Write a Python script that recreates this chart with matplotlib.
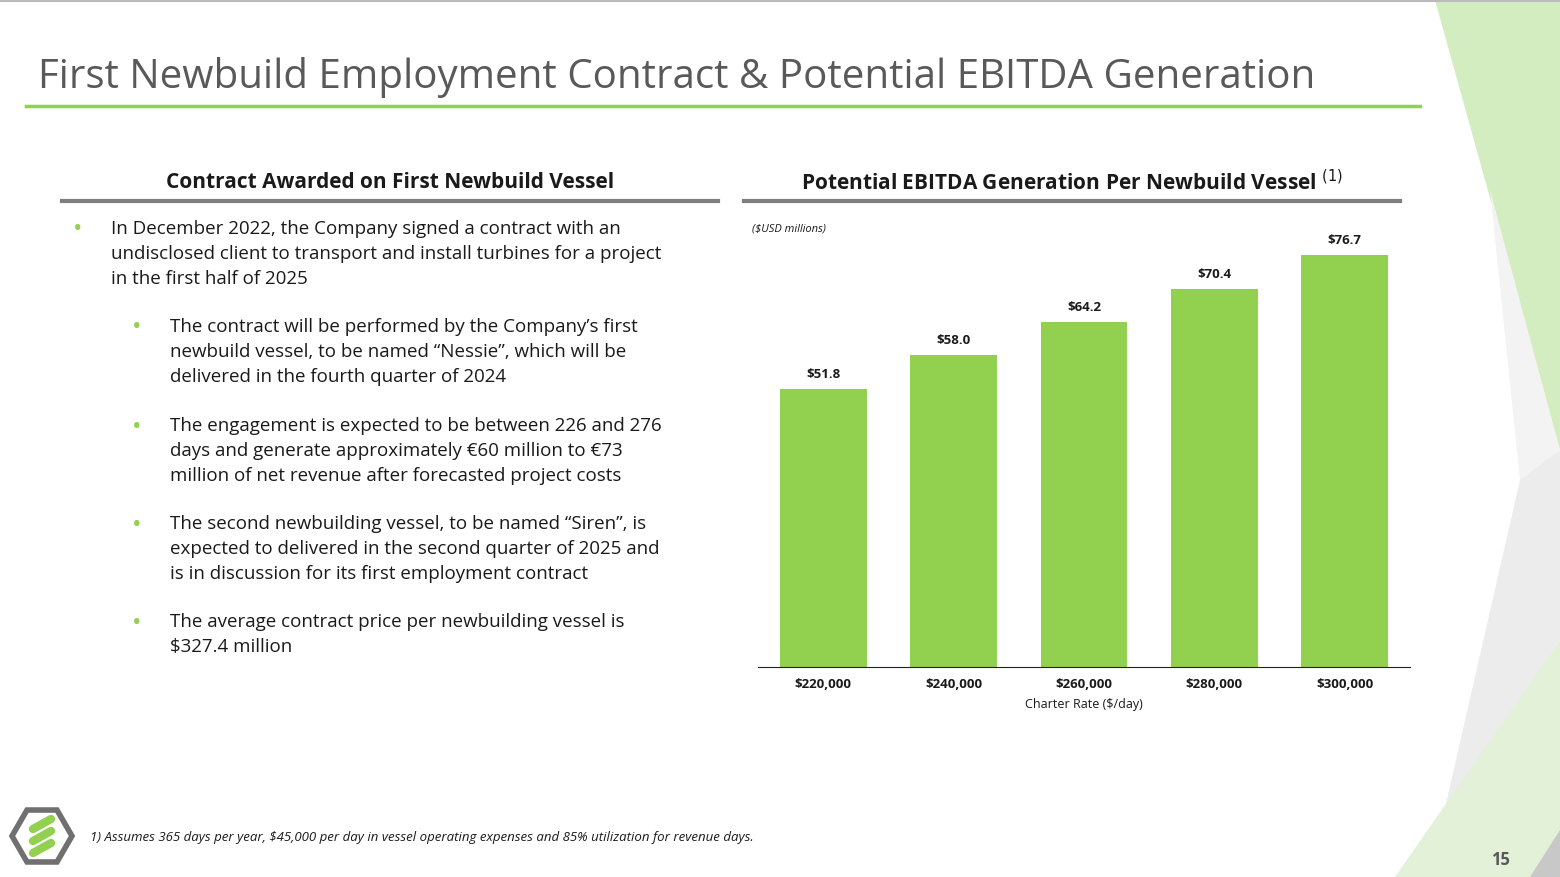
import numpy as np
import matplotlib.pyplot as plt
from matplotlib.patches import Polygon, RegularPolygon

# ── Data ─────────────────────────────────────────────────────────────────────
charter_rates = ["$220,000", "$240,000", "$260,000", "$280,000", "$300,000"]
ebitda = [51.8, 58.0, 64.2, 70.4, 76.7]

bullets = [
    (0, "In December 2022, the Company signed a contract with an\nundisclosed client to transport and install turbines for a project\nin the first half of 2025"),
    (1, "The contract will be performed by the Company\u2019s first\nnewbuild vessel, to be named \u201cNessie\u201d, which will be\ndelivered in the fourth quarter of 2024"),
    (1, "The engagement is expected to be between 226 and 276\ndays and generate approximately \u20ac60 million to \u20ac73\nmillion of net revenue after forecasted project costs"),
    (1, "The second newbuilding vessel, to be named \u201cSiren\u201d, is\nexpected to delivered in the second quarter of 2025 and\nis in discussion for its first employment contract"),
    (1, "The average contract price per newbuilding vessel is\n$327.4 million"),
]
bullet_y = [233, 331, 430, 528, 626]

GREEN = "#92d050"
TXT = "#1a1a1a"
plt.rcParams['font.family'] = ['Open Sans', 'DejaVu Sans']

W, H = 1560, 877
fig = plt.figure(figsize=(W / 100, H / 100), dpi=100)
bg = fig.add_axes([0, 0, 1, 1])
bg.set_xlim(0, W); bg.set_ylim(H, 0); bg.axis("off")

# decorative shapes on the right
bg.add_patch(Polygon([(1435, 0), (1560, 0), (1560, 450)], color="#d3edc0", lw=0))
bg.add_patch(Polygon([(1490, 190), (1560, 450), (1560, 640), (1520, 480)], color="#f3f3f3", lw=0))
bg.add_patch(Polygon([(1520, 480), (1560, 450), (1560, 640), (1450, 800), (1440, 830)], color="#ececec", lw=0))
bg.add_patch(Polygon([(1395, 877), (1560, 640), (1560, 877)], color="#e2f1d8", lw=0))
bg.add_patch(Polygon([(1530, 877), (1560, 830), (1560, 877)], color="#c8c8c8", lw=0))
bg.plot([0, W], [1, 1], color="#bbbbbb", lw=1.5)

# title
bg.text(38, 78, "First Newbuild Employment Contract & Potential EBITDA Generation",
        fontsize=29, color="#595959", va="center")
bg.plot([26, 1420], [106, 106], color=GREEN, lw=2.5)

# section headers
bg.text(390, 183, "Contract Awarded on First Newbuild Vessel", fontsize=15,
        fontweight="bold", color=TXT, ha="center", va="center")
bg.plot([62, 718], [201, 201], color="#7f7f7f", lw=3)
bg.text(1072, 183, "Potential EBITDA Generation Per Newbuild Vessel $^{(1)}$", fontsize=15,
        fontweight="bold", color=TXT, ha="center", va="center")
bg.plot([744, 1400], [201, 201], color="#7f7f7f", lw=3)

# bullets
for (lvl, txt), y in zip(bullets, bullet_y):
    bx = 78 if lvl == 0 else 137
    tx = 111 if lvl == 0 else 170
    bg.text(bx, y - 3, "\u2022", color=GREEN, fontsize=18, va="center", ha="center")
    bg.text(tx, y - 13, txt, fontsize=13.5, color=TXT, va="top", linespacing=1.5)

bg.text(752, 229, "($USD millions)", fontsize=8, style="italic", color=TXT, va="center")

# footnote, logo, page number
bg.text(90, 838, "1) Assumes 365 days per year, $45,000 per day in vessel operating expenses and 85% utilization for revenue days.",
        fontsize=9.5, style="italic", color=TXT, va="center")
bg.add_patch(RegularPolygon((42, 836), 6, radius=30, orientation=np.pi / 6,
                            fill=False, ec="#707070", lw=4))
for dy in (-12, 0, 12):
    bg.plot([33, 51], [836 + dy + 5, 836 + dy - 5], color=GREEN, lw=6, solid_capstyle="round")
bg.text(1500, 860, "15", fontsize=12, fontweight="bold", color="#595959", ha="center", va="center")

# ── Bar chart ────────────────────────────────────────────────────────────────
ax = fig.add_axes([758 / W, (H - 667) / H, (1410 - 758) / W, (667 - 230) / H])
ax.patch.set_alpha(0)
x = range(len(ebitda))
ax.bar(x, ebitda, width=0.667, color=GREEN)
for xi, v in zip(x, ebitda):
    ax.text(xi, v + 1.5, f"${v:.1f}", ha="center", va="bottom", fontsize=9.5,
            fontweight="bold", color=TXT)
ax.set_xlim(-0.5, 4.5)
ax.set_ylim(0, 81.35)
ax.set_xticks(list(x))
ax.set_xticklabels(charter_rates, fontsize=9.5, fontweight="bold", color=TXT)
ax.tick_params(axis="x", length=0, pad=8)
ax.set_yticks([])
for s in ("top", "right", "left"):
    ax.spines[s].set_visible(False)
ax.spines["bottom"].set_color("#222222")
ax.set_xlabel("Charter Rate ($/day)", fontsize=9, color=TXT, labelpad=5)

fig.savefig("out.png", dpi=100)
